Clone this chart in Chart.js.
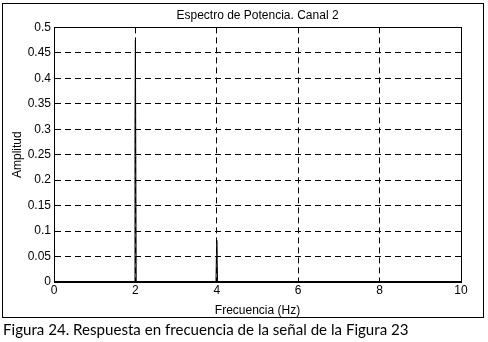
<!DOCTYPE html>
<html>
<head>
<meta charset="utf-8">
<script src="https://cdn.jsdelivr.net/npm/chart.js@4"></script>
<style>
  html, body { margin: 0; padding: 0; background: #fff; }
  #marco { position: absolute; left: 0; top: 0; width: 488px; height: 342px; }
  #pie {
    position: absolute; left: 3px; top: 320px;
    font-family: "Lato", sans-serif; font-size: 15.1px; color: #000; white-space: nowrap;
  }
</style>
</head>
<body>
<div id="marco"><canvas id="grafica" width="488" height="342"></canvas></div>
<div id="pie">Figura 24. Respuesta en frecuencia de la señal de la Figura 23</div>
<script>
// Datos (frecuencia en Hz, amplitud)
const frecuencias = [0, 1.97, 1.99, 2.0, 2.02, 3.98, 3.99, 4.0, 4.02, 10];
const amplitudes  = [0, 0,    0.30, 0.475, 0,   0,    0.05, 0.082, 0,  0];
const ticksX = [0, 2, 4, 6, 8, 10];
const ticksY = [0, 0.05, 0.1, 0.15, 0.2, 0.25, 0.3, 0.35, 0.4, 0.45, 0.5];

const puntos = frecuencias.map((f, i) => ({ x: f, y: amplitudes[i] }));

// Recuadro exterior y caja del area de trazado
const marcos = {
  id: 'marcos',
  beforeDraw(chart) {
    const ctx = chart.ctx;
    ctx.save();
    ctx.strokeStyle = '#000';
    ctx.lineWidth = 1;
    ctx.strokeRect(2.5, 3.5, 481, 314);
    ctx.restore();
  },
  afterDatasetsDraw(chart) {
    const a = chart.chartArea;
    const ctx = chart.ctx;
    ctx.save();
    ctx.strokeStyle = '#000';
    ctx.lineWidth = 1;
    ctx.strokeRect(Math.round(a.left) + 0.5, Math.round(a.top) + 0.5,
                   Math.round(a.right - a.left), Math.round(a.bottom - a.top));
    ctx.beginPath();
    ctx.moveTo(a.left, Math.round(a.bottom) - 0.5);
    ctx.lineTo(a.right, Math.round(a.bottom) - 0.5);
    ctx.stroke();
    ctx.restore();
  }
};

const fuente = { family: 'Liberation Sans, Arial, sans-serif', size: 12, weight: 'normal' };

new Chart(document.getElementById('grafica').getContext('2d'), {
  type: 'line',
  data: {
    datasets: [{
      data: puntos,
      borderColor: '#000',
      borderWidth: 1,
      pointRadius: 0,
      tension: 0,
      fill: false
    }]
  },
  options: {
    responsive: false,
    animation: false,
    events: [],
    layout: { padding: { left: 10, right: 27, top: 0, bottom: 24 } },
    plugins: {
      legend: { display: false },
      tooltip: { enabled: false },
      title: {
        display: true,
        fullSize: false,
        text: 'Espectro de Potencia. Canal 2',
        color: '#000',
        font: fuente,
        padding: { top: 8, bottom: 5 }
      }
    },
    scales: {
      x: {
        type: 'linear',
        min: 0, max: 10,
        afterBuildTicks: s => { s.ticks = ticksX.map(v => ({ value: v })); },
        afterFit: s => { s.height = 342 - 282 - 24; },
        ticks: { color: '#000', font: fuente, padding: 1, maxRotation: 0 },
        grid: { color: '#000', lineWidth: 1, drawTicks: false },
        border: { color: '#000', dash: [6, 4] },
        title: { display: true, text: 'Frecuencia (Hz)', color: '#000', font: fuente, padding: { top: 0, bottom: 0 } }
      },
      y: {
        min: 0, max: 0.5,
        afterBuildTicks: s => { s.ticks = ticksY.map(v => ({ value: v })); },
        afterFit: s => { s.width = 54 - 10; },
        ticks: { color: '#000', font: fuente, padding: 3, callback: v => String(+v.toFixed(2)) },
        grid: { color: '#000', lineWidth: 1, drawTicks: false },
        border: { color: '#000', dash: [6, 4] },
        title: { display: true, text: 'Amplitud', color: '#000', font: fuente, padding: { top: 0, bottom: 0 } }
      }
    }
  },
  plugins: [marcos]
});
</script>
</body>
</html>
